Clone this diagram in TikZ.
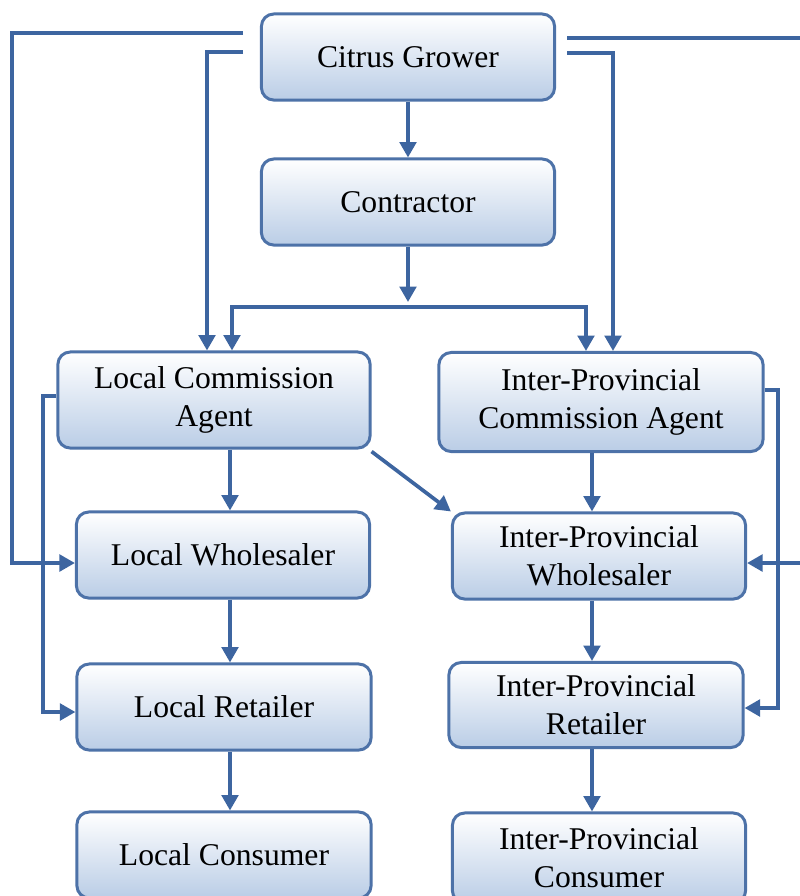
\documentclass[tikz,border=0pt]{standalone}
\usepackage{fontspec}
\setmainfont{Liberation Serif}
\usetikzlibrary{calc,arrows.meta}
\definecolor{boxline}{HTML}{4D72A8}
\definecolor{arrowc}{HTML}{3D65A0}
\definecolor{boxshade}{HTML}{BACDE6}

\begin{document}
\begin{tikzpicture}[x=0.01cm,y=-0.01cm,
  box/.style={draw=boxline,line width=0.85pt,rounded corners=3.5pt,top color=white,bottom color=boxshade,
    minimum width=2.93cm,minimum height=0.86cm,inner sep=0pt,align=center,font=\fontsize{9}{10.8}\selectfont},
  link/.style={draw=arrowc,line width=1.05pt},
  arrow/.style={link,-{Triangle[length=4.4pt,width=4.7pt]}}]
  \useasboundingbox (0,0) rectangle (799,896);
  \node[box] (grower) at (408,57) {Citrus Grower};
  \node[box] (contractor) at (408,202) {Contractor};
  \node[box,minimum width=3.12cm,minimum height=0.96cm] (lca) at (214,400) {Local Commission\\Agent};
  \node[box,minimum width=3.24cm,minimum height=0.99cm] (ipca) at (601,402) {Inter-Provincial\\Commission Agent};
  \node[box] (lw) at (223,555) {Local Wholesaler};
  \node[box] (ipw) at (599,556) {Inter-Provincial\\Wholesaler};
  \node[box,minimum width=2.94cm] (lr) at (224,707) {Local Retailer};
  \node[box,minimum width=2.94cm,minimum height=0.85cm] (ipr) at (596,705) {Inter-Provincial\\Retailer};
  \node[box,minimum width=2.94cm] (lc) at (224,855) {Local Consumer};
  \node[box,minimum height=0.9cm] (ipc) at (599,858) {Inter-Provincial\\Consumer};
  \coordinate (gl1) at (243,33); \coordinate (gl2) at (243,52); \coordinate (gr1) at (567,38); \coordinate (gr2) at (567,53);
  \coordinate (split) at (408,307); \coordinate (rin) at (812,563);
  \draw[arrow] (grower.south) -- (contractor.north);
  \draw[arrow] (contractor.south) -- ($(split)+(0,-5)$);
  \draw[arrow] (split) -| (lca.north -| 232,0);
  \draw[arrow] (split) -| (ipca.north -| 586,0);
  \foreach \a/\b/\x in {lca/lw/230,lw/lr/230,lr/lc/230,ipca/ipw/592,ipw/ipr/592,ipr/ipc/592}
    \draw[arrow] (\a.south -| \x,0) -- (\b.north -| \x,0);
  \draw[arrow] ($(lca.south east)+(0,2)$) -- (ipw.north west);
  % outer feeds from the grower
  \draw[arrow] (gl1) -| (12,563) -- (lw.west |- 0,563);
  \draw[arrow] (gl2) -| (lca.north -| 207,0);
  \draw[arrow] (gr2) -| (ipca.north -| 613,0);
  \draw[link] (gr1) -- (812,38);
  \draw[arrow] (rin) -- (ipw.east |- 0,563);
  % side links
  \draw[arrow] (lca.west |- 0,396) -| (43,712) -- (lr.west |- 0,712);
  \draw[arrow] (ipca.east |- 0,390) -| (778,708) -- (ipr.east |- 0,708);
\end{tikzpicture}
\end{document}
